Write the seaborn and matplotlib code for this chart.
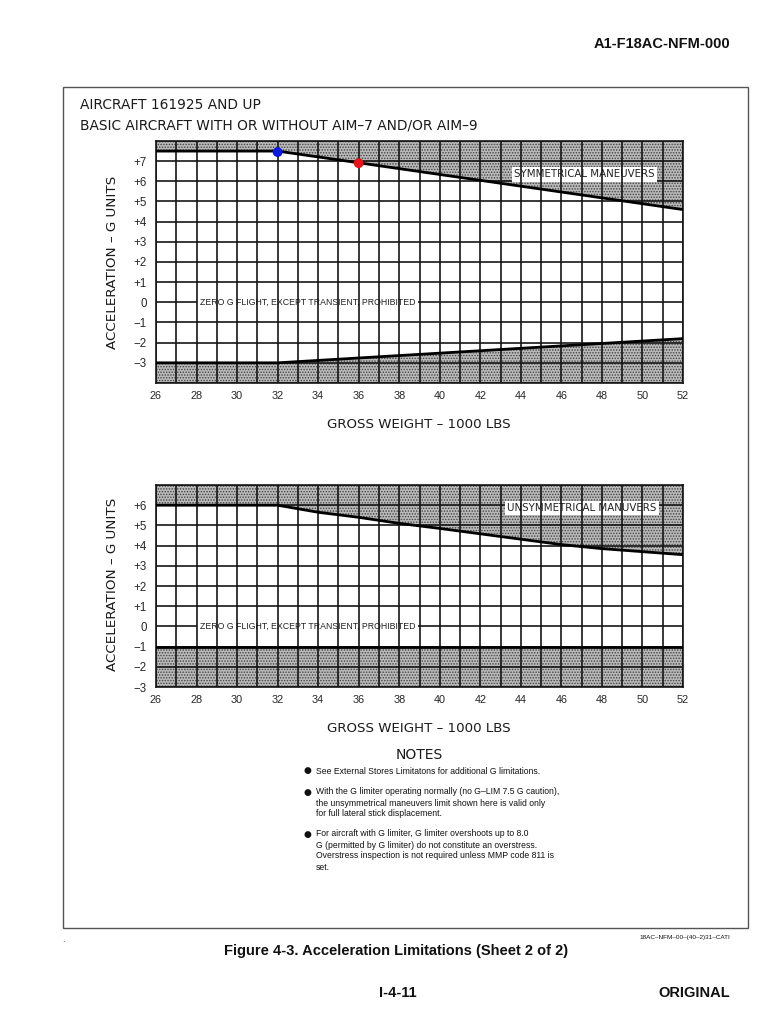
import matplotlib
matplotlib.use("Agg")
import matplotlib.pyplot as plt
import seaborn as sns
import pandas as pd
from matplotlib.patches import Rectangle

# ---- data ----
weight_ticks = list(range(26, 53))
weight_labels = [str(w) if w % 2 == 0 else "" for w in weight_ticks]

# symmetrical maneuvers (top chart)
sym_upper_w = [26, 32, 52]
sym_upper_g = [7.5, 7.5, 4.6]
sym_lower_w = [26, 32, 52]
sym_lower_g = [-3.0, -3.0, -1.8]
sym_g_ticks = [-4, -3, -2, -1, 0, 1, 2, 3, 4, 5, 6, 7]
sym_g_labels = ["", "\u22123", "\u22122", "\u22121", "0", "+1", "+2", "+3", "+4", "+5", "+6", "+7"]

# unsymmetrical maneuvers (bottom chart)
unsym_upper_w = [26, 32, 34, 36, 38, 40, 43, 46, 48, 52]
unsym_upper_g = [6.0, 6.0, 5.65, 5.4, 5.1, 4.85, 4.45, 4.05, 3.85, 3.55]
unsym_lower_w = [26, 52]
unsym_lower_g = [-1.0, -1.0]
unsym_g_ticks = [-3, -2, -1, 0, 1, 2, 3, 4, 5, 6, 7]
unsym_g_labels = ["\u22123", "\u22122", "\u22121", "0", "+1", "+2", "+3", "+4", "+5", "+6", ""]

marker_w = [32, 36]
marker_g = [7.45, 6.9]
marker_colors = ["#0a18e6", "#e8121a"]

notes = [
    ["See External Stores Limitatons for additional G limitations."],
    ["With the G limiter operating normally (no G\u2013LIM 7.5 G caution),",
     "the unsymmetrical maneuvers limit shown here is valid only",
     "for full lateral stick displacement."],
    ["For aircraft with G limiter, G limiter overshoots up to 8.0",
     "G (permitted by G limiter) do not constitute an overstress.",
     "Overstress inspection is not required unless MMP code 811 is",
     "set."],
]

sns.set_style("white")
plt.rcParams["font.family"] = ["DejaVu Sans"]
plt.rcParams["hatch.linewidth"] = 0.7
plt.rcParams["hatch.color"] = "#444444"

W, H = 777, 1026
fig = plt.figure(figsize=(W / 100, H / 100), dpi=100)


def fx(x):
    return x / W


def fy(y):
    return 1 - y / H


narrow = ["Liberation Sans Narrow", "DejaVu Sans Condensed", "Liberation Sans"]
HATCH_FACE = "#b9b9b9"
GRID = "#161616"


def draw_chart(ax, up_w, up_g, lo_w, lo_g, ymin, ymax, gticks, glabels, tag, tag_xy):
    ax.set_xlim(26, 52)
    ax.set_ylim(ymin, ymax)
    # prohibited zones
    ax.fill_between(up_w, up_g, ymax, facecolor=HATCH_FACE, hatch="......",
                    edgecolor="#444444", linewidth=0, zorder=1)
    ax.fill_between(lo_w, ymin, lo_g, facecolor=HATCH_FACE, hatch="......",
                    edgecolor="#444444", linewidth=0, zorder=1)
    # grid
    for g in range(ymin, ymax + 1):
        ax.axhline(g, color=GRID, lw=1.2, zorder=2)
    for w in weight_ticks:
        ax.axvline(w, color=GRID, lw=1.2, zorder=4)
    # limit lines
    sns.lineplot(x=up_w, y=up_g, ax=ax, color="black", lw=2.0, zorder=5)
    sns.lineplot(x=lo_w, y=lo_g, ax=ax, color="black", lw=2.0, zorder=5)

    ax.text(tag_xy[0], tag_xy[1], tag, ha="center", va="center", fontsize=7.4,
            color="#222", zorder=3,
            bbox=dict(facecolor="white", edgecolor="none", pad=1.6))
    ax.text(28.15, 0, "ZERO G FLIGHT, EXCEPT TRANSIENT, PROHIBITED", ha="left",
            va="center", fontsize=6.3, family=narrow, color="#222", zorder=3,
            bbox=dict(facecolor="white", edgecolor="none", pad=2.2))

    ax.set_xticks(weight_ticks)
    ax.set_xticklabels(weight_labels, family=narrow, fontsize=7.8)
    ax.set_yticks(gticks)
    ax.set_yticklabels(glabels, family=narrow, fontsize=8.3)
    ax.tick_params(axis="x", direction="out", length=7, width=1.2, pad=-1, color=GRID)
    ax.tick_params(axis="y", direction="out", length=6.5, width=1.2, pad=0, color=GRID)
    for s in ax.spines.values():
        s.set_color(GRID)
        s.set_linewidth(1.2)
    ax.set_xlabel("")
    ax.set_ylabel("")


# top chart
ax1 = fig.add_axes([fx(156), fy(383), (683 - 156) / W, (383 - 141) / H])
draw_chart(ax1, sym_upper_w, sym_upper_g, sym_lower_w, sym_lower_g, -4, 8,
           sym_g_ticks, sym_g_labels, "SYMMETRICAL MANEUVERS", (47.15, 6.35))
mk = pd.DataFrame({"w": marker_w, "g": marker_g, "c": ["blue", "red"]})
sns.scatterplot(data=mk, x="w", y="g", hue="c", palette=marker_colors, s=50,
                edgecolor="none", legend=False, ax=ax1, zorder=6)
ax1.set_xlabel("")
ax1.set_ylabel("")

# bottom chart
ax2 = fig.add_axes([fx(156), fy(687), (683 - 156) / W, (687 - 485) / H])
draw_chart(ax2, unsym_upper_w, unsym_upper_g, unsym_lower_w, unsym_lower_g, -3, 7,
           unsym_g_ticks, unsym_g_labels, "UNSYMMETRICAL MANUVERS", (47.0, 5.85))

# page frame
fig.patches.append(Rectangle((fx(63), fy(928)), (748 - 63) / W, (928 - 87) / H,
                             transform=fig.transFigure, fill=False,
                             edgecolor="#555", lw=1.0))

ttl = dict(fontsize=9.9, color="#1a1a1a", ha="left", va="center")
fig.text(fx(80), fy(105), "AIRCRAFT 161925 AND UP", **ttl)
fig.text(fx(80), fy(126), "BASIC AIRCRAFT WITH OR WITHOUT AIM\u20137 AND/OR AIM\u20139", **ttl)

for yc in (262, 584):
    fig.text(fx(113), fy(yc), "ACCELERATION \u2013 G UNITS", rotation=90,
             fontsize=9.7, color="#1a1a1a", ha="center", va="center")
for yc in (424, 728):
    fig.text(fx(419), fy(yc), "GROSS WEIGHT \u2013 1000 LBS", fontsize=9.6,
             color="#1a1a1a", ha="center", va="center")

# notes
fig.text(fx(419), fy(755), "NOTES", fontsize=10, color="#1a1a1a", ha="center", va="center")
note_y = [771, 792, 834]
for block, y0 in zip(notes, note_y):
    fig.text(fx(307), fy(y0), "\u25cf", fontsize=6.5, ha="center", va="center", color="#111")
    for i, line in enumerate(block):
        fig.text(fx(316), fy(y0 + 11 * i), line, fontsize=6.2, family=narrow,
                 ha="left", va="center", color="#111")

bold = dict(family=["Liberation Sans Narrow", "Liberation Sans"], weight="bold", color="#111")
fig.text(fx(730), fy(44), "A1-F18AC-NFM-000", fontsize=10.5, ha="right", va="center", **bold)
fig.text(fx(396), fy(951), "Figure 4-3. Acceleration Limitations (Sheet 2 of 2)",
         fontsize=10.5, ha="center", va="center", **bold)
fig.text(fx(398), fy(993), "I-4-11", fontsize=10.5, ha="center", va="center", **bold)
fig.text(fx(730), fy(993), "ORIGINAL", fontsize=10.5, ha="right", va="center", **bold)
fig.text(fx(730), fy(937), "18AC\u2013NFM\u201300\u2013(40\u20132)31\u2013CATI", fontsize=4.6,
         family=narrow, ha="right", va="center", color="#111")
fig.text(fx(63), fy(940), ".", fontsize=6, ha="center", va="center", color="#333")

fig.savefig("out.png", dpi=100)
